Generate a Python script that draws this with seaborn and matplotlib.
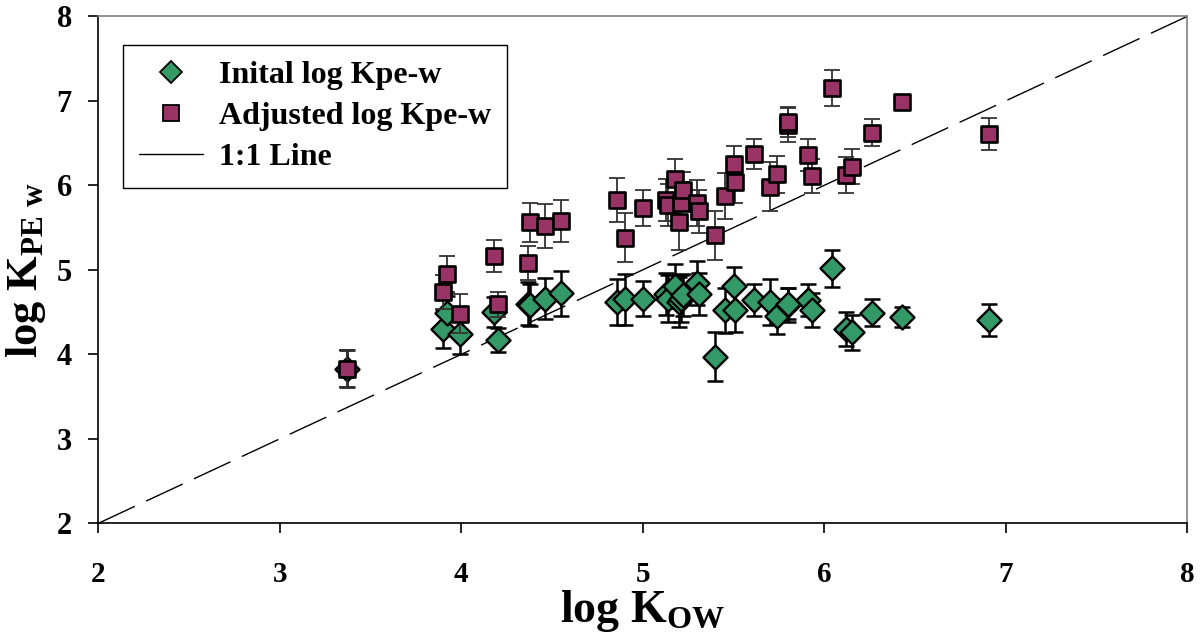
import numpy as np
import pandas as pd
import matplotlib
matplotlib.use("Agg")
import matplotlib.pyplot as plt
import seaborn as sns
from matplotlib.lines import Line2D

# -----------------------------
# Data
# -----------------------------
log_kow = [3.37, 3.90, 3.92, 3.99, 4.18, 4.20, 4.37, 4.38, 4.46, 4.55,
           4.86, 4.90, 5.00, 5.13, 5.14, 5.18, 5.20, 5.21, 5.22, 5.30,
           5.31, 5.40, 5.45, 5.50, 5.51, 5.61, 5.70, 5.74, 5.80, 5.80,
           5.91, 5.93, 6.04, 6.12, 6.15, 6.26, 6.43, 6.91]

initial_kpe = [3.83, 4.30, 4.49, 4.24, 4.50, 4.17, 4.60, 4.58, 4.66, 4.72,
               4.62, 4.65, 4.66, 4.71, 4.66, 4.81, 4.62, 4.66, 4.70, 4.84,
               4.71, 3.97, 4.52, 4.81, 4.53, 4.64, 4.62, 4.45, 4.58, 4.60,
               4.64, 4.52, 5.02, 4.30, 4.26, 4.49, 4.44, 4.41]
initial_err = [0.22, 0.23, 0.20, 0.24, 0.18, 0.14, 0.25, 0.25, 0.24, 0.27,
               0.27, 0.30, 0.21, 0.25, 0.28, 0.26, 0.30, 0.28, 0.25, 0.26,
               0.25, 0.29, 0.27, 0.22, 0.27, 0.19, 0.27, 0.21, 0.20, 0.18,
               0.19, 0.20, 0.22, 0.20, 0.21, 0.16, 0.12, 0.19]

adjusted_kpe = [3.83, 4.74, 4.95, 4.48, 5.16, 4.59, 5.08, 5.56, 5.52, 5.58,
                5.83, 5.38, 5.73, 5.83, 5.77, 6.08, 5.56, 5.79, 5.94, 5.79,
                5.69, 5.41, 5.87, 6.25, 6.04, 6.37, 5.98, 6.13, 6.71, 6.75,
                6.36, 6.11, 7.15, 6.12, 6.22, 6.62, 6.98, 6.61]
adjusted_err = [0.22, 0.20, 0.21, 0.23, 0.19, 0.15, 0.20, 0.23, 0.26, 0.25,
                0.26, 0.29, 0.21, 0.25, 0.25, 0.23, 0.33, 0.25, 0.22, 0.27,
                0.25, 0.29, 0.27, 0.22, 0.25, 0.18, 0.29, 0.22, 0.20, 0.18,
                0.19, 0.20, 0.21, 0.21, 0.21, 0.16, 0.08, 0.19]

one_to_one = [2, 8]
ticks = [2, 3, 4, 5, 6, 7, 8]

df = pd.DataFrame({"kow": log_kow, "initial": initial_kpe, "init_err": initial_err,
                   "adjusted": adjusted_kpe, "adj_err": adjusted_err})

# -----------------------------
# Style
# -----------------------------
sns.set_style("ticks", {"text.color": "black", "axes.labelcolor": "black",
                        "xtick.color": "black", "ytick.color": "black",
                        "axes.edgecolor": "black"})
plt.rcParams["font.family"] = ["Liberation Serif", "DejaVu Serif"]
plt.rcParams["font.weight"] = "bold"
plt.rcParams["mathtext.fontset"] = "custom"
plt.rcParams["mathtext.rm"] = "Liberation Serif:bold"
plt.rcParams["mathtext.it"] = "Liberation Serif:bold"
plt.rcParams["mathtext.bf"] = "Liberation Serif:bold"

GREEN = "#339966"
PLUM = "#993366"

fig = plt.figure(figsize=(12.02, 6.44), dpi=100)
ax = fig.add_axes([0.0818, 0.1874, 0.906, 0.7873])

# 1:1 line
ax.plot(one_to_one, one_to_one, color="black", lw=1.0, dashes=(29, 9),
        zorder=1, clip_on=False)

# Initial series: error bars then diamonds
ax.errorbar(df["kow"], df["initial"], yerr=df["init_err"], fmt="none",
            ecolor="black", elinewidth=1.8, capsize=6, capthick=1.8, zorder=2)
sns.scatterplot(data=df, x="kow", y="initial", marker="D", s=150,
                color=GREEN, edgecolor="black", linewidth=1.7, ax=ax, zorder=3)

# Adjusted series: error bars then squares
ax.errorbar(df["kow"], df["adjusted"], yerr=df["adj_err"], fmt="none",
            ecolor="#333333", elinewidth=1.3, capsize=6, capthick=1.3, zorder=4)
sns.scatterplot(data=df, x="kow", y="adjusted", marker="s", s=125,
                color=PLUM, edgecolor="black", linewidth=1.9, ax=ax, zorder=5)

ax.set_xlim(2, 8)
ax.set_ylim(2, 8)
ax.set_xticks(ticks)
ax.set_yticks(ticks)
ax.tick_params(axis="both", direction="out", length=7, width=1.2, colors="black",
               bottom=True, left=True, top=False, right=False)
ax.tick_params(axis="x", labelsize=21, pad=20)
ax.tick_params(axis="y", labelsize=22, pad=12)
for lab in ax.get_xticklabels() + ax.get_yticklabels():
    lab.set_fontweight("bold")

for side in ["left", "bottom"]:
    ax.spines[side].set_color("black")
    ax.spines[side].set_linewidth(1.2)
for side in ["top", "right"]:
    ax.spines[side].set_visible(True)
    ax.spines[side].set_color("#808080")
    ax.spines[side].set_linewidth(1.2)

ax.set_xlabel(r"log K$_{\mathrm{OW}}$", fontsize=33, fontweight="bold", labelpad=0)
ax.set_ylabel(r"log K$_{\mathrm{PE\ w}}$", fontsize=32, fontweight="bold", labelpad=6)

handles = [
    Line2D([], [], marker="D", color="none", markerfacecolor=GREEN,
           markeredgecolor="black", markersize=11, markeredgewidth=1.3),
    Line2D([], [], marker="s", color="none", markerfacecolor=PLUM,
           markeredgecolor="black", markersize=11, markeredgewidth=1.3),
    Line2D([], [], color="black", lw=1.0),
]
leg = ax.legend(handles, ["Inital log Kpe-w", "Adjusted log Kpe-w", "1:1 Line"],
                loc="upper left", bbox_to_anchor=(0.0227, 0.9436),
                frameon=True, fancybox=False, shadow=False, borderpad=0.5,
                labelspacing=0.36, handlelength=2.0, handletextpad=0.5,
                borderaxespad=0, prop={"weight": "bold", "size": 23})
leg.get_frame().set_edgecolor("black")
leg.get_frame().set_linewidth(1.0)
leg.get_frame().set_alpha(1)

fig.savefig("out.png", dpi=100)
